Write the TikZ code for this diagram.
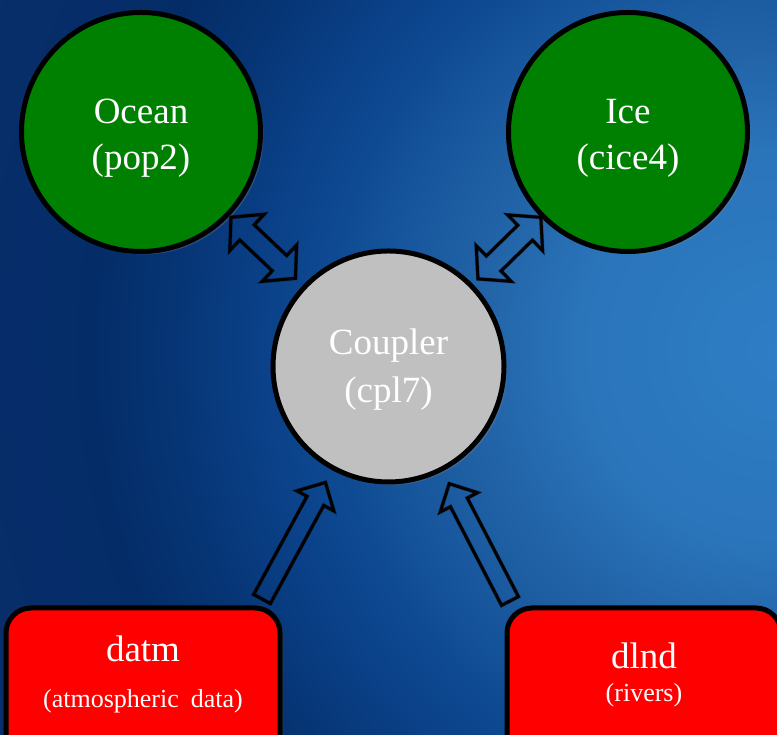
\documentclass[tikz,border=0pt]{standalone}
\usepackage{fontspec}
\setmainfont{Liberation Serif}
\usetikzlibrary{calc,shadows}
\definecolor{bgA}{HTML}{2E7EC5}
\definecolor{bgB}{HTML}{2A74BA}
\definecolor{bgC}{HTML}{2263A7}
\definecolor{bgD}{HTML}{18579D}
\definecolor{bgE}{HTML}{0E4A92}
\definecolor{bgF}{HTML}{0A4087}
\definecolor{bgG}{HTML}{063575}
\definecolor{bgH}{HTML}{042D68}
\definecolor{bgI}{HTML}{0A2E6A}
\definecolor{ocgreen}{HTML}{008000}
\definecolor{cplgray}{HTML}{C0C0C0}
\definecolor{boxred}{HTML}{FF0000}
\pgfdeclareradialshading{bgshade}{\pgfpoint{0bp}{0bp}}{color(0bp)=(bgA); color(200bp)=(bgB); color(300bp)=(bgC); color(380bp)=(bgD); color(450bp)=(bgE); color(520bp)=(bgF); color(600bp)=(bgG); color(680bp)=(bgH); color(900bp)=(bgI); color(1000bp)=(bgI)}
\newcommand\dblblock[3][]{\draw[blockarrow,#1] let \p1=(#2), \p2=(#3), \n1={atan2(\y2-\y1,\x2-\x1)}, \n2={veclen(\x2-\x1,\y2-\y1)} in [shift={(\p1)}, rotate=\n1] (0,0) -- (22,25) -- (22,10.5) -- ({\n2-22},10.5) -- ({\n2-22},25) -- ({\n2},0) -- ({\n2-22},-25) -- ({\n2-22},-10.5) -- (22,-10.5) -- (22,-25) -- cycle;}
\newcommand\oneblock[3][]{\draw[blockarrow,#1] let \p1=(#2), \p2=(#3), \n1={atan2(\y2-\y1,\x2-\x1)}, \n2={veclen(\x2-\x1,\y2-\y1)} in [shift={(\p1)}, rotate=\n1] (0,9.5) -- ({\n2-21},9.5) -- ({\n2-21},21) -- ({\n2},0) -- ({\n2-21},-21) -- ({\n2-21},-9.5) -- (0,-9.5) -- cycle;}
\begin{document}
\begin{tikzpicture}[x=1pt,y=1pt,
  comp/.style={circle, draw=black, line width=5pt, inner sep=0pt, outer sep=0pt,
    drop shadow={shadow xshift=3pt, shadow yshift=-3pt, opacity=.3}},
  model/.style={comp, fill=ocgreen, minimum size=239pt},
  hub/.style={comp, fill=cplgray, minimum size=231pt},
  databox/.style={rectangle, rounded corners=25pt, draw=black, line width=5pt, fill=boxred,
    minimum width=274pt, minimum height=160pt, inner sep=0pt, outer sep=0pt,
    drop shadow={shadow xshift=3pt, shadow yshift=-3pt, opacity=.3}},
  bigtxt/.style={text=white, inner sep=0pt, anchor=base, font=\fontsize{37}{44}\selectfont},
  smalltxt/.style={text=white, inner sep=0pt, anchor=base, font=\fontsize{26}{31}\selectfont},
  blockarrow/.style={draw=black, line width=3pt, line join=miter},
  arrowshade/.style={draw opacity=.3, line width=4pt, shift={(2,-2)}}]
\useasboundingbox (0,0) rectangle (777,735);
\clip (0,0) rectangle (777,735);
\node[inner sep=0pt, outer sep=0pt] (bg) at (777,385) {\pgfuseshading{bgshade}};

\node[model] (ocean) at (141,603) {};
\node[model] (ice) at (628,603) {};
\node[hub] (cpl) at (388.5,368.5) {};
\node[databox] (datm) at (143,47) {};
\node[databox] (dlnd) at (644,47) {};

\node[bigtxt] (ocean-name) at (141,611) {Ocean};
\node[bigtxt] (ocean-code) at (141,565) {(pop2)};
\node[bigtxt] (ice-name) at (628,611) {Ice};
\node[bigtxt] (ice-code) at (628,565) {(cice4)};
\node[bigtxt] (cpl-name) at (388.5,380) {Coupler};
\node[bigtxt] (cpl-code) at (388.5,332) {(cpl7)};
\node[bigtxt] (datm-name) at (143,73) {datm};
\node[smalltxt] (datm-desc) at (143,27) {(atmospheric\hspace{12pt}data)};
\node[bigtxt] (dlnd-name) at (644,66) {dlnd};
\node[smalltxt] (dlnd-desc) at (644,33) {(rivers)};

\coordinate (oa1) at ($(ocean.center)!124pt!(cpl.center)$);
\coordinate (oa2) at ($(ocean.center)!213pt!(cpl.center)$);
\coordinate (ia1) at ($(ice.center)!122pt!(cpl.center)$);
\coordinate (ia2) at ($(ice.center)!210pt!(cpl.center)$);
\coordinate (da) at ($(datm.north east)+(-18,9)$);
\coordinate (dt) at ($(cpl.center)!132pt!(da)$);
\coordinate (la) at ($(dlnd.north west)+(3,7)$);
\coordinate (lt) at ($(cpl.center)!132pt!(la)$);

\dblblock[arrowshade]{oa1}{oa2}
\dblblock[arrowshade]{ia1}{ia2}
\oneblock[arrowshade]{da}{dt}
\oneblock[arrowshade]{la}{lt}
\dblblock{oa1}{oa2}
\dblblock{ia1}{ia2}
\oneblock{da}{dt}
\oneblock{la}{lt}
\end{tikzpicture}
\end{document}
